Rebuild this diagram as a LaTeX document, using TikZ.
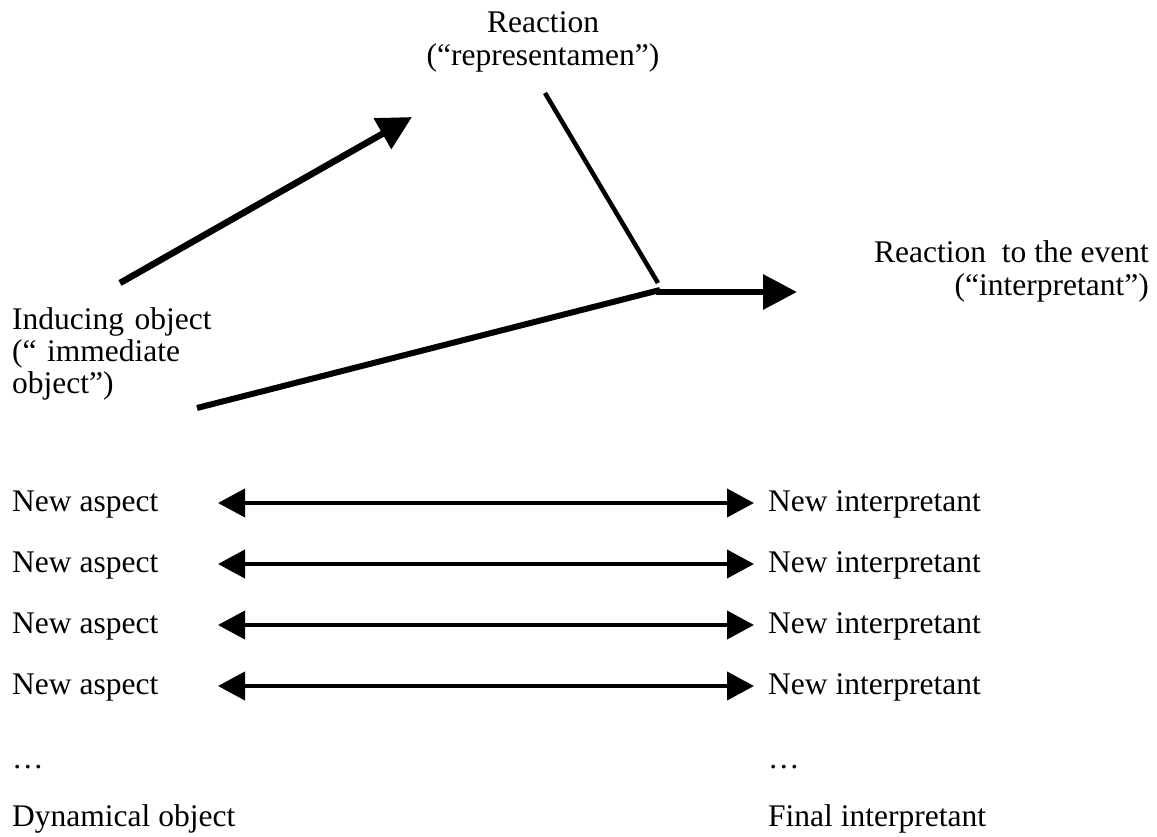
\documentclass[tikz,border=0pt]{standalone}
\usepackage{fontspec}
\setmainfont{Liberation Serif}
\usetikzlibrary{arrows.meta}

\begin{document}
\begin{tikzpicture}[x=1pt,y=-1pt,
  txt/.style={inner sep=0pt, font=\fontsize{31.5}{32}\selectfont},
  lft/.style={txt, anchor=base west},
  thickarrow/.style={line width=6.5pt, -{Triangle[length=34pt,width=34pt]}},
  thickline/.style={line width=6pt, line cap=butt},
  thinline/.style={line width=4.5pt},
  pairarrow/.style={line width=4pt, {Triangle[length=27pt,width=28pt]}-{Triangle[length=27pt,width=28pt]}}
]
\useasboundingbox (0,0) rectangle (1157,837);
\fill[white] (0,0) rectangle (1157,837);

% sign triad
\node[txt, anchor=base] (rep1) at (543,33) {Reaction};
\node[txt, anchor=base] (rep2) at (543,66) {(“representamen”)};
\node[txt, anchor=base east] (int1) at (1149,263) {Reaction\ \ to the event};
\node[txt, anchor=base east] (int2) at (1149,295) {(“interpretant”)};
\node[txt, align=left, anchor=north west, text width=210pt] (obj) at (12,307)
  {Inducing object\\(“ immediate\\object”)};

\coordinate (a1s) at (120,283);
\coordinate (a1e) at (412,117);
\coordinate (rs) at (545,93);
\coordinate (rj) at (658,283);
\coordinate (os) at (197,408);
\coordinate (oj) at (660,290);
\coordinate (js) at (656,292);
\coordinate (je) at (797,292);

\draw[thickarrow] (a1s) -- (a1e);
\draw[thinline] (rs) -- (rj);
\draw[thickline] (os) -- (oj);
\draw[thickarrow] (js) -- (je);

% semiosis chain
\foreach \i/\y in {1/511,2/572,3/633,4/694}{
  \node[lft] (asp\i) at (12,\y) {New aspect};
  \node[lft] (ni\i) at (768,\y) {New interpretant};
  \coordinate (l\i) at (218,\y-8);
  \coordinate (r\i) at (754,\y-8);
  \draw[pairarrow] (l\i) -- (r\i);
}
\node[lft] (dots1) at (12,768) {…};
\node[lft] (dots2) at (768,768) {…};
\node[lft] (dyn) at (12,826) {Dynamical object};
\node[lft] (fin) at (768,826) {Final interpretant};
\end{tikzpicture}
\end{document}
